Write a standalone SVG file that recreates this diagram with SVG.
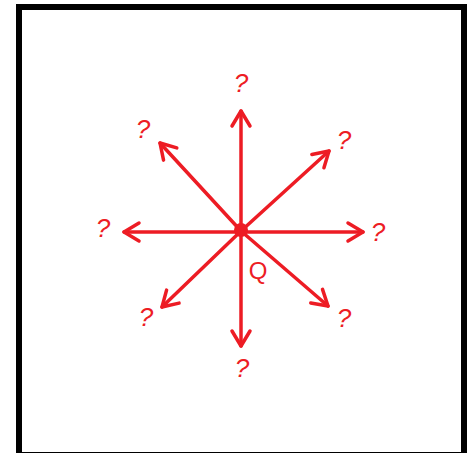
<svg xmlns="http://www.w3.org/2000/svg" width="472" height="453" viewBox="0 0 472 453">
<style>
.ln{stroke:#ED1C24;stroke-width:3.5;fill:none;stroke-linecap:round;marker-end:url(#ah)}
.q{font-family:"Liberation Sans",Arial,sans-serif;font-size:26px;fill:#ED1C24;text-anchor:middle;font-style:italic}
.lbl{font-family:"Liberation Sans",Arial,sans-serif;font-size:24px;fill:#ED1C24;text-anchor:middle}
</style>
<defs>
<marker id="ah" viewBox="0 0 24 24" refX="19" refY="12" markerWidth="24" markerHeight="24" markerUnits="userSpaceOnUse" orient="auto">
<path d="M4,3 L19,12 L4,21" fill="none" stroke="#ED1C24" stroke-width="3.5" stroke-linecap="round" stroke-linejoin="round"/>
</marker>
</defs>
<rect x="0" y="0" width="472" height="453" fill="#fff"/>
<rect id="frame" x="19" y="7" width="445" height="448" fill="#fff" stroke="#000" stroke-width="6"/>
<g id="connectors">
<line class="ln" x1="241" y1="231" x2="241" y2="111"/>
<line class="ln" x1="241" y1="231" x2="241" y2="346"/>
<line class="ln" x1="241" y1="232" x2="124" y2="232"/>
<line class="ln" x1="241" y1="232" x2="363" y2="232"/>
<line class="ln" x1="241" y1="231" x2="160" y2="143"/>
<line class="ln" x1="241" y1="231" x2="329" y2="151"/>
<line class="ln" x1="241" y1="231" x2="162" y2="307"/>
<line class="ln" x1="241" y1="231" x2="328" y2="306"/>
</g>
<g id="Q">
<circle cx="241" cy="230" r="7" fill="#ED1C24"/>
<text class="lbl" x="258" y="279">Q</text>
</g>
<g id="q-top"><text class="q" x="241" y="92">?</text></g>
<g id="q-upleft"><text class="q" x="143" y="138">?</text></g>
<g id="q-upright"><text class="q" x="344" y="149">?</text></g>
<g id="q-left"><text class="q" x="103" y="237">?</text></g>
<g id="q-right"><text class="q" x="378" y="241">?</text></g>
<g id="q-downleft"><text class="q" x="146" y="326">?</text></g>
<g id="q-downright"><text class="q" x="344" y="327">?</text></g>
<g id="q-bottom"><text class="q" x="242" y="377">?</text></g>
</svg>
